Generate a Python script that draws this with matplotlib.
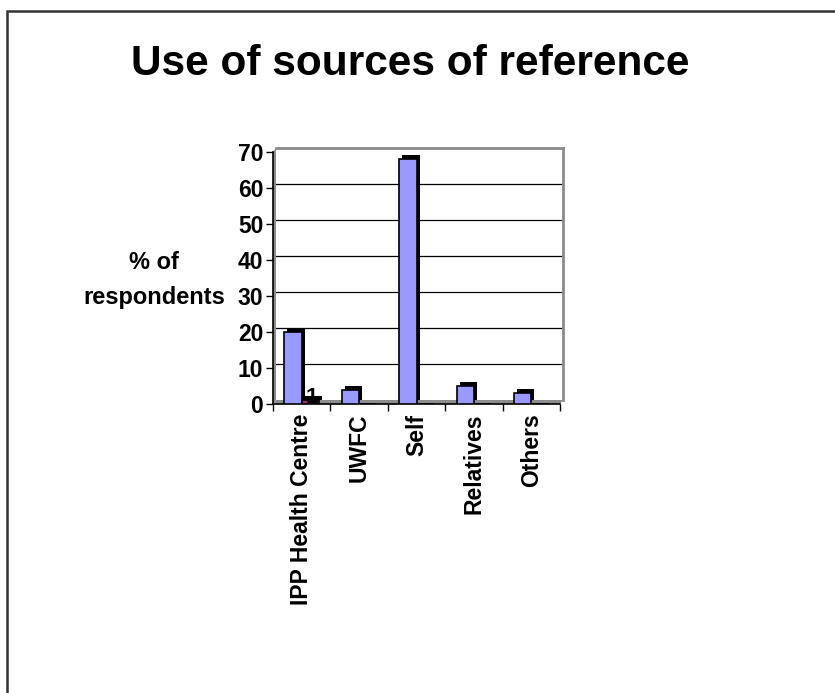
import numpy as np
import matplotlib
matplotlib.use('Agg')
import matplotlib.pyplot as plt
from matplotlib.patches import Polygon, Rectangle

plt.rcParams['font.family'] = ['Liberation Sans', 'DejaVu Sans']
plt.rcParams['font.weight'] = 'bold'

categories = ['IPP Health Centre', 'UWFC', 'Self', 'Relatives', 'Others']
pct_main = [20, 4, 68, 5, 3]      # first series (blue)
pct_second = [1, 0, 0, 0, 0]      # second series (maroon), only first category
yticks = [0, 10, 20, 30, 40, 50, 60, 70]

W, H = 835, 693
fig = plt.figure(figsize=(W / 100, H / 100), dpi=100)
fig.patch.set_facecolor('white')

def fr(x0, y_top, x1, y_bot):
    # pixel box -> figure fraction rect
    return [x0 / W, 1 - y_bot / H, (x1 - x0) / W, (y_bot - y_top) / H]

# depth offset of the 3d look (pixels)
dx, dy = 3, 4
front = (273, 152, 560, 404)
back = (front[0] + dx, front[1] - dy, front[2] + dx, front[3] - dy)

axb = fig.add_axes(fr(*back))
ax = fig.add_axes(fr(*front))
ax.set_zorder(2)
ax.patch.set_alpha(0)

x = np.arange(len(categories))
bw = 0.3
for a in (axb, ax):
    a.set_xlim(-0.5, len(categories) - 0.5)
    a.set_ylim(0, 70)

# back wall: gridlines and gray frame
axb.set_yticks(yticks[1:-1])
axb.yaxis.grid(True, color='black', lw=0.9)
axb.set_xticks([])
axb.tick_params(left=False, labelleft=False)
for s in axb.spines.values():
    s.set_color('#8c8c8c')
    s.set_linewidth(2)
axb.spines['bottom'].set_visible(False)
axb.spines['left'].set_visible(False)

# floor and side wall
floor = Polygon([(front[0] / W, 1 - front[3] / H), (front[2] / W, 1 - front[3] / H),
                 (back[2] / W, 1 - back[3] / H), (back[0] / W, 1 - back[3] / H)],
                closed=True, transform=fig.transFigure, facecolor='#8c8c8c',
                edgecolor='none', zorder=0.5, clip_on=False)
axb.add_patch(floor)
wall = Polygon([(front[0] / W, 1 - front[3] / H), (back[0] / W, 1 - back[3] / H),
                (back[0] / W, 1 - back[1] / H), (front[0] / W, 1 - front[1] / H)],
               closed=True, transform=fig.transFigure, facecolor='#8c8c8c',
               edgecolor='none', zorder=0.5, clip_on=False)
axb.add_patch(wall)

# bar depth (back faces) in black, drawn in the back plane
axb.bar(x - bw / 2, pct_main, bw, color='black', zorder=3, clip_on=False)
axb.bar(x + bw / 2, pct_second, bw, color='black', zorder=3, clip_on=False)

# front faces
ax.bar(x - bw / 2, pct_main, bw, color='#9999ff', edgecolor='black', lw=1.2, zorder=3)
ax.bar(x + bw / 2, pct_second, bw, color='#993366', edgecolor='black', lw=1.2, zorder=3)
for xi, v in zip(x, pct_second):
    if v:
        ax.text(xi + bw / 2 + 0.03, v + 0.7, str(v), ha='center', va='center',
                fontsize=16, fontweight='bold', zorder=5)

# front axes: spines, ticks, labels
for side in ('top', 'right'):
    ax.spines[side].set_visible(False)
ax.spines['left'].set_linewidth(1.2)
ax.spines['bottom'].set_linewidth(1.2)
ax.set_yticks(yticks)
ax.set_yticklabels([str(t) for t in yticks])
ax.tick_params(axis='y', direction='out', length=5, width=1, labelsize=16.5, pad=2)
ax.set_xticks(np.arange(len(categories) + 1) - 0.5)
ax.set_xticklabels([])
ax.tick_params(axis='x', which='major', direction='out', length=5, width=1)
ax.set_xticks(x, minor=True)
ax.set_xticklabels(categories, minor=True, rotation=90, fontsize=16.5,
                   fontweight='bold', va='top', ha='center')
ax.tick_params(axis='x', which='minor', length=0, pad=7)

fig.text(154 / W, 1 - 280 / H, '% of\nrespondents', ha='center', va='center',
         fontsize=17, fontweight='bold', linespacing=1.7)

fig.text(410 / W, 1 - 64 / H, 'Use of sources of reference', ha='center',
         va='center', fontsize=30.5, fontweight='bold')

# outer chart border (runs off the right and bottom edges)
fig.add_artist(Rectangle((7 / W, -0.1), 2, 1.1 - 11 / H, fill=False,
                         edgecolor='#333333', lw=1.8, transform=fig.transFigure))

fig.savefig('out.png', dpi=100)
